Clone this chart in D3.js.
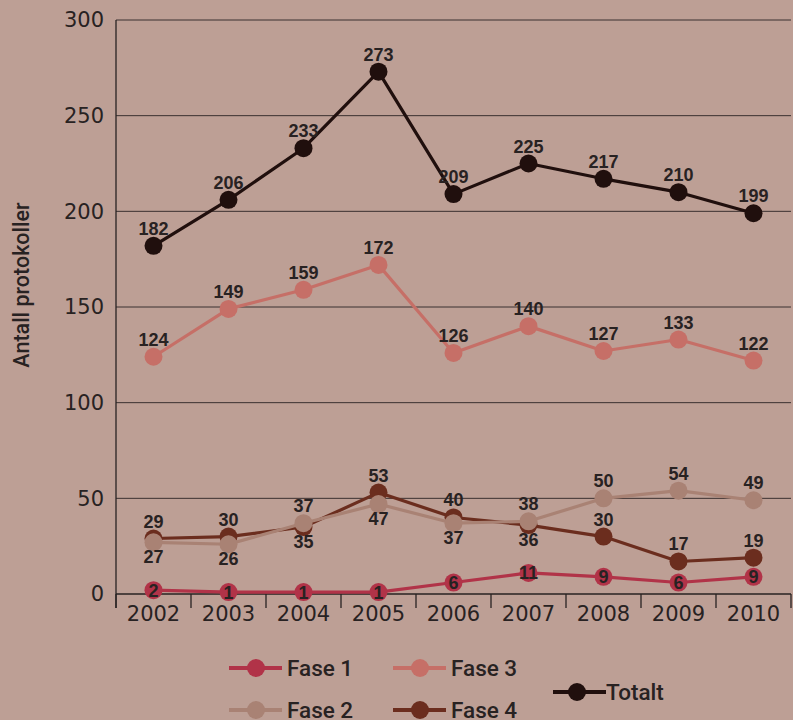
<!DOCTYPE html>
<html>
<head>
<meta charset="utf-8">
<script src="https://cdn.jsdelivr.net/npm/d3@7"></script>
<style>
  html, body { margin: 0; padding: 0; background: #bd9f95; }
  svg { display: block; }
</style>
</head>
<body>
<svg id="chart" width="793" height="720"></svg>
<script>
// Protocol counts per phase, 2002–2010
const years = ["2002", "2003", "2004", "2005", "2006", "2007", "2008", "2009", "2010"];
const fase1 = [2, 1, 1, 1, 6, 11, 9, 6, 9];
const fase2 = [27, 26, 37, 47, 37, 38, 50, 54, 49];
const fase3 = [124, 149, 159, 172, 126, 140, 127, 133, 122];
const fase4 = [29, 30, 35, 53, 40, 36, 30, 17, 19];
const totalt = [182, 206, 233, 273, 209, 225, 217, 210, 199];
const yTicks = [0, 50, 100, 150, 200, 250, 300];
const yTitle = "Antall protokoller";

const seriesNames = ["Fase 1", "Fase 2", "Fase 3", "Fase 4", "Totalt"];
const colors = {
  "Fase 1": "#b13348",
  "Fase 2": "#a98274",
  "Fase 3": "#c66f67",
  "Fase 4": "#6b2d1e",
  "Totalt": "#200f0d"
};

const ink = "#282222";
const svg = d3.select("#chart");

const x = d3.scaleBand().domain(years).range([116, 791]);
const y = d3.scaleLinear().domain([0, 300]).range([594, 20]);
const cx = d => x(d) + x.bandwidth() / 2;

// horizontal gridlines
svg.append("g")
  .selectAll("line")
  .data(yTicks.filter(t => t > 0))
  .join("line")
  .attr("x1", 116).attr("x2", 791)
  .attr("y1", d => y(d)).attr("y2", d => y(d))
  .attr("stroke", "#3a3030").attr("stroke-width", 1);

// y axis
const yAxis = svg.append("g")
  .attr("transform", "translate(116,0)")
  .call(d3.axisLeft(y).tickValues(yTicks).tickSize(0).tickPadding(12));
yAxis.select(".domain").attr("stroke", ink).attr("stroke-width", 1.3)
  .attr("d", `M0,${y(300)}V608`);
yAxis.selectAll("text")
  .attr("fill", ink)
  .style("font-family", "'DejaVu Sans', sans-serif")
  .style("font-size", "21px");

// x axis: ticks mark the band boundaries
const xAxis = svg.append("g").attr("transform", `translate(0,${y(0)})`);
xAxis.append("line").attr("x1", 116).attr("x2", 791).attr("y1", 0).attr("y2", 0)
  .attr("stroke", ink).attr("stroke-width", 1.3);
xAxis.selectAll("line.tick")
  .data(years.concat(["end"]))
  .join("line").attr("class", "tick")
  .attr("x1", (d, i) => i < years.length ? x(d) : x(years[years.length - 1]) + x.bandwidth())
  .attr("x2", (d, i) => i < years.length ? x(d) : x(years[years.length - 1]) + x.bandwidth())
  .attr("y1", 0).attr("y2", 14)
  .attr("stroke", ink).attr("stroke-width", 1.3);
xAxis.selectAll("text")
  .data(years)
  .join("text")
  .attr("x", d => cx(d))
  .attr("y", 27)
  .attr("text-anchor", "middle")
  .attr("fill", ink)
  .style("font-family", "'DejaVu Sans', sans-serif")
  .style("font-size", "21px")
  .text(d => d);

// y axis title
svg.append("text")
  .attr("transform", "translate(29,285) rotate(-90)")
  .attr("text-anchor", "middle")
  .attr("fill", ink)
  .style("font-family", "Roboto, 'Liberation Sans', sans-serif")
  .style("font-weight", "500")
  .style("font-size", "21.5px")
  .text(yTitle);

const data = {
  "Fase 1": fase1, "Fase 2": fase2, "Fase 3": fase3, "Fase 4": fase4, "Totalt": totalt
};

const line = d3.line().x(d => cx(d.year)).y(d => y(d.v));

// drawing order: Fase 4 beneath Fase 2, totals on top
const drawOrder = ["Fase 4", "Fase 2", "Fase 1", "Fase 3", "Totalt"];
drawOrder.forEach(name => {
  const pts = years.map((yr, i) => ({ year: yr, v: data[name][i] }));
  const g = svg.append("g");
  g.append("path")
    .datum(pts)
    .attr("d", line)
    .attr("fill", "none")
    .attr("stroke", colors[name])
    .attr("stroke-width", 3.2)
    .attr("stroke-linejoin", "round");
  g.selectAll("circle")
    .data(pts)
    .join("circle")
    .attr("cx", d => cx(d.year))
    .attr("cy", d => y(d.v))
    .attr("r", 9)
    .attr("fill", colors[name]);
});

// value labels
const labelFont = (sel) => sel
  .attr("text-anchor", "middle")
  .attr("fill", ink)
  .style("font-family", "'Liberation Sans', Arial, sans-serif")
  .style("font-weight", "bold")
  .style("font-size", "18px");

const labels = svg.append("g");
function placement(name, i) {
  if (name === "Fase 1") return "inside";
  if (name === "Fase 2" || name === "Fase 4") {
    const mine = data[name][i];
    const other = data[name === "Fase 2" ? "Fase 4" : "Fase 2"][i];
    if (Math.abs(mine - other) < 12 && mine < other) return "below";
    if (Math.abs(mine - other) < 12 && mine === other && name === "Fase 2") return "below";
  }
  return "above";
}
seriesNames.forEach(name => {
  years.forEach((yr, i) => {
    const v = data[name][i];
    const p = placement(name, i);
    const cy = y(v);
    const ty = p === "inside" ? cy + 6.5 : p === "below" ? cy + 21 : cy - 11;
    labels.append("text")
      .attr("x", cx(yr))
      .attr("y", ty)
      .call(labelFont)
      .text(v);
  });
});

// legend
const legendItems = [
  { name: "Fase 1", x: 229, y: 668 },
  { name: "Fase 3", x: 393, y: 668 },
  { name: "Fase 2", x: 229, y: 710 },
  { name: "Fase 4", x: 393, y: 710 },
  { name: "Totalt", x: 553, y: 692 }
];
const lg = svg.append("g");
legendItems.forEach(it => {
  const g = lg.append("g").attr("transform", `translate(${it.x},${it.y})`);
  g.append("line").attr("x1", 0).attr("x2", 53).attr("y1", 0).attr("y2", 0)
    .attr("stroke", colors[it.name]).attr("stroke-width", 4);
  g.append("circle").attr("cx", it.name === "Totalt" ? 24 : 27).attr("cy", 0).attr("r", 9)
    .attr("fill", colors[it.name]);
  g.append("text")
    .attr("x", it.name === "Totalt" ? 53 : 58)
    .attr("y", 8)
    .attr("fill", ink)
    .style("font-family", "Roboto, 'Liberation Sans', sans-serif")
    .style("font-weight", "500")
    .style("font-size", "22.5px")
    .text(it.name);
});
</script>
</body>
</html>
